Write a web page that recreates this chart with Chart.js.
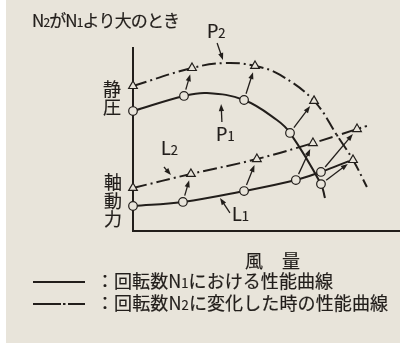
<!DOCTYPE html>
<html>
<head>
<meta charset="utf-8">
<script src="https://cdn.jsdelivr.net/npm/chart.js@4.4.0/dist/chart.umd.min.js"></script>
<style>
  html, body { margin: 0; padding: 0; background: #fff; }
  canvas { display: block; }
</style>
</head>
<body>
<canvas id="fanChart" width="400" height="343"></canvas>
<script>
// 風量 (x) と 静圧・軸動力 (y) は任意単位 0-100

// 回転数N1の性能曲線 (実線)
const P1_CURVE = [[0, 65.2], [19.1, 73.4], [27.7, 75.0], [41.6, 71.2], [53.9, 60.3], [58.8, 53.3], [70.4, 25.5], [71.9, 17.9]];
const L1_CURVE = [[0, 13.6], [18.7, 15.8], [41.6, 21.7], [61.0, 27.7], [70.4, 32.1], [80.9, 38.0]];
// 回転数N2の性能曲線 (一点鎖線)
const P2_CURVE = [[0, 78.8], [22.1, 88.6], [34.5, 91.3], [45.7, 89.7], [55.1, 84.8], [67.8, 70.7], [76.8, 51.1], [82.4, 38.6], [87.6, 23.9]];
const L2_CURVE = [[0, 23.4], [21.7, 31.0], [46.4, 39.1], [67.4, 47.8], [83.9, 55.4], [87.6, 57.1]];

// 運転点 (○ = N1, △ = N2)
const P1_POINTS = [[0, 65.2], [19.1, 73.4], [41.6, 71.2], [58.8, 53.3], [70.4, 25.5]];
const P2_POINTS = [[0, 78.8], [22.1, 88.6], [45.7, 89.7], [67.8, 70.7], [82.4, 38.6]];
const L1_POINTS = [[0, 13.6], [18.7, 15.8], [41.6, 21.7], [61.0, 27.7], [70.4, 32.1]];
const L2_POINTS = [[0, 23.4], [21.7, 31.0], [46.4, 39.1], [67.4, 47.8], [83.9, 55.4]];

// 曲線名ラベルと矢印 (データ単位)
const CURVE_LABELS = [
    { text: 'P_2', at: [27.7, 104.9], from: [31.5, 102.2], to: [33.7, 92.9] },
    { text: 'P_1', at: [31.1, 48.9], from: [33.3, 59.2], to: [33.0, 69.0] },
    { text: 'L_2', at: [10.5, 41.3], from: [11.6, 34.8], to: [14.2, 30.4] },
    { text: 'L_1', at: [37.1, 5.4], from: [36.3, 9.8], to: [32.6, 17.9] }
];

const INK = '#221e1b';
const PAPER = '#e8e4da';
const FONT = '"Noto Sans CJK JP", "Noto Sans", sans-serif';
const DASH_DOT = [14, 4, 2, 4];

const toXY = arr => arr.map(([x, y]) => ({ x, y }));

// 原図の文字は少し太めなので細い縁取りを足す
function ink(ctx, ch, x, y) {
    ctx.fillText(ch, x, y);
    ctx.strokeText(ch, x, y);
}

// "_" の次の1文字を下付きで描く。width を渡すと字間で幅を合わせる
function drawRich(ctx, str, x, y, size, width) {
    const glyphs = [];
    for (let i = 0; i < str.length; i++) {
        let ch = str[i], s = size;
        if (ch === '_') {
            ch = str[++i];
            s = Math.round(size * 0.7);
        }
        ctx.font = s + 'px ' + FONT;
        glyphs.push({ ch, s, w: ctx.measureText(ch).width });
    }
    const natural = glyphs.reduce((a, g) => a + g.w, 0);
    const gap = width && glyphs.length > 1 ? (width - natural) / (glyphs.length - 1) : 0;
    let cx = x;
    glyphs.forEach(g => {
        ctx.font = g.s + 'px ' + FONT;
        ink(ctx, g.ch, cx, y);
        cx += g.w + gap;
    });
}

function drawArrow(ctx, x1, y1, x2, y2) {
    const ang = Math.atan2(y2 - y1, x2 - x1);
    const c = Math.cos(ang), s = Math.sin(ang);
    const head = 7, half = 2.6;
    ctx.beginPath();
    ctx.moveTo(x1, y1);
    ctx.lineTo(x2 - c * head * 0.8, y2 - s * head * 0.8);
    ctx.stroke();
    ctx.beginPath();
    ctx.moveTo(x2, y2);
    ctx.lineTo(x2 - c * head - s * half, y2 - s * head + c * half);
    ctx.lineTo(x2 - c * head + s * half, y2 - s * head - c * half);
    ctx.closePath();
    ctx.fill();
}

const paperPlugin = {
    id: 'paper',
    beforeDraw(chart) {
        const ctx = chart.ctx;
        ctx.save();
        ctx.fillStyle = '#ffffff';
        ctx.fillRect(0, 0, chart.width, chart.height);
        ctx.fillStyle = PAPER;
        ctx.fillRect(6, 0, chart.width - 6, chart.height);
        ctx.restore();
    },
    beforeDatasetsDraw(chart) {
        // 軸線
        const ctx = chart.ctx;
        const xs = chart.scales.x, ys = chart.scales.y;
        const x0 = xs.getPixelForValue(0), y0 = ys.getPixelForValue(0);
        ctx.save();
        ctx.strokeStyle = INK;
        ctx.lineWidth = 2;
        ctx.beginPath();
        ctx.moveTo(x0, ys.getPixelForValue(100));
        ctx.lineTo(x0, y0);
        ctx.lineTo(xs.getPixelForValue(100), y0);
        ctx.stroke();
        ctx.restore();
    }
};

const annotatePlugin = {
    id: 'annotate',
    afterDatasetsDraw(chart) {
        const ctx = chart.ctx;
        const xs = chart.scales.x, ys = chart.scales.y;
        const px = v => xs.getPixelForValue(v);
        const py = v => ys.getPixelForValue(v);
        ctx.save();
        ctx.strokeStyle = INK;
        ctx.fillStyle = INK;
        ctx.lineWidth = 1.3;

        // N1 -> N2 の移動矢印
        const pairs = [[P1_POINTS, P2_POINTS], [L1_POINTS, L2_POINTS]];
        pairs.forEach(([from, to]) => {
            for (let i = 1; i < from.length; i++) {
                const ax = px(from[i][0]), ay = py(from[i][1]);
                const bx = px(to[i][0]), by = py(to[i][1]);
                const len = Math.hypot(bx - ax, by - ay);
                const ux = (bx - ax) / len, uy = (by - ay) / len;
                drawArrow(ctx, ax + ux * 6.5, ay + uy * 6.5, bx - ux * 6.5, by - uy * 6.5);
            }
        });
        CURVE_LABELS.forEach(l => {
            drawArrow(ctx, px(l.from[0]), py(l.from[1]), px(l.to[0]), py(l.to[1]));
        });

        // 文字
        ctx.lineWidth = 0.2;
        ctx.textBaseline = 'alphabetic';
        ctx.textAlign = 'left';
        CURVE_LABELS.forEach(l => {
            drawRich(ctx, l.text, px(l.at[0]), py(l.at[1]), 18);
        });

        // タイトル
        drawRich(ctx, 'N_2がN_1より大のとき', 32, 27, 17, 148);

        // 軸タイトル
        ctx.font = '18px ' + FONT;
        ctx.textAlign = 'center';
        ctx.textBaseline = 'middle';
        ink(ctx, '静', 112, 89);
        ink(ctx, '圧', 112, 107);
        ink(ctx, '軸', 113, 182);
        ink(ctx, '動', 113, 201);
        ink(ctx, '力', 113, 219);
        ink(ctx, '風', 254, 261);
        ink(ctx, '量', 291, 261);

        // 凡例
        ctx.lineWidth = 2;
        ctx.beginPath();
        ctx.moveTo(33, 282); ctx.lineTo(85, 282);
        ctx.moveTo(33, 304); ctx.lineTo(61, 304);
        ctx.moveTo(63, 304); ctx.lineTo(65.5, 304);
        ctx.moveTo(68, 304); ctx.lineTo(85, 304);
        ctx.stroke();
        ctx.lineWidth = 0.2;
        ctx.textAlign = 'left';
        ctx.textBaseline = 'alphabetic';
        drawRich(ctx, '：回転数N_1における性能曲線', 96, 288, 18, 237);
        drawRich(ctx, '：回転数N_2に変化した時の性能曲線', 96, 310, 18, 292);
        ctx.restore();
    }
};

const curveStyle = {
    showLine: true,
    pointRadius: 0,
    borderColor: INK,
    borderWidth: 2,
    tension: 0.4,
    fill: false,
    clip: false,
    order: 2
};
const markerStyle = {
    showLine: false,
    borderColor: INK,
    backgroundColor: PAPER,
    borderWidth: 1.2,
    clip: false,
    order: 1
};

const hiddenAxis = size => ({
    type: 'linear', min: 0, max: 100,
    grid: { display: false },
    ticks: { display: false },
    border: { display: false },
    afterFit(scale) { scale[size] = 0; }
});

new Chart(document.getElementById('fanChart'), {
    type: 'scatter',
    data: {
        datasets: [
            { ...curveStyle, label: 'P1', data: toXY(P1_CURVE) },
            { ...curveStyle, label: 'L1', data: toXY(L1_CURVE) },
            { ...curveStyle, label: 'P2', data: toXY(P2_CURVE), borderDash: DASH_DOT },
            { ...curveStyle, label: 'L2', data: toXY(L2_CURVE), borderDash: DASH_DOT },
            { ...markerStyle, label: 'P1点', data: toXY(P1_POINTS), pointStyle: 'circle', pointRadius: 4.3 },
            { ...markerStyle, label: 'L1点', data: toXY(L1_POINTS), pointStyle: 'circle', pointRadius: 4.3 },
            { ...markerStyle, label: 'P2点', data: toXY(P2_POINTS), pointStyle: 'triangle', pointRadius: 5 },
            { ...markerStyle, label: 'L2点', data: toXY(L2_POINTS), pointStyle: 'triangle', pointRadius: 5 }
        ]
    },
    options: {
        responsive: false,
        devicePixelRatio: 1,
        animation: false,
        layout: { autoPadding: false, padding: { left: 133, top: 47, right: 0, bottom: 112 } },
        plugins: {
            legend: { display: false },
            tooltip: { enabled: false }
        },
        scales: {
            x: hiddenAxis('height'),
            y: hiddenAxis('width')
        }
    },
    plugins: [paperPlugin, annotatePlugin]
});
</script>
</body>
</html>
